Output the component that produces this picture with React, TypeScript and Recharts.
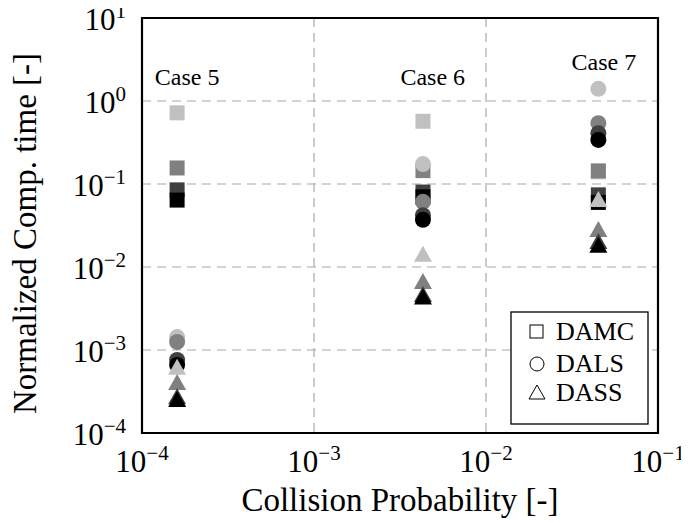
import React from 'react';
import { ScatterChart, Scatter, XAxis, YAxis, CartesianGrid, ReferenceArea } from 'recharts';

// Collision probability of each case
const caseX = [1.6e-4, 4.3e-3, 4.5e-2];
const caseNames = ['Case 5', 'Case 6', 'Case 7'];
const caseLabelX = [1.83e-4, 4.9e-3, 4.85e-2];
const caseLabelY = [1.56, 1.56, 2.36];

// grey shades (light -> black)
const shades = ['#c0c0c0', '#808080', '#404040', '#000000'];

// DAMC (squares)
const damcLight = [0.72, 0.57, 0.14];
const damcMid = [0.156, 0.145, 0.144];
const damcDark = [0.085, 0.08, 0.074];
const damcBlack = [0.064, 0.07, 0.06];

// DALS (circles)
const dalsLight = [1.43e-3, 0.174, 1.4];
const dalsMid = [1.25e-3, 0.061, 0.54];
const dalsDark = [7.6e-4, 0.042, 0.41];
const dalsBlack = [6.6e-4, 0.037, 0.34];

// DASS (triangles)
const dassLight = [6.1e-4, 0.014, 0.064];
const dassMid = [4.0e-4, 6.6e-3, 0.028];
const dassDark = [2.7e-4, 4.6e-3, 0.02];
const dassBlack = [2.5e-4, 4.3e-3, 0.018];

const xTicks = [1e-4, 1e-3, 1e-2, 1e-1];
const yTicks = [1e-4, 1e-3, 1e-2, 1e-1, 1, 10];

const legendNames = ['DAMC', 'DALS', 'DASS'];

const FONT = 'Liberation Serif';
const txt = (size: number) => ({ fontFamily: FONT, fontSize: size, fill: '#000' });

const toPts = (vals: number[]) => vals.map((v, i) => ({ x: caseX[i], y: v }));
const labelPts = caseNames.map((n, i) => ({ x: caseLabelX[i], y: caseLabelY[i], name: n }));

const expText = (v: number) => {
  const e = Math.round(Math.log10(v));
  return e < 0 ? '\u2212' + Math.abs(e) : String(e);
};

const XTick = (props: any) => {
  const { x, y, payload } = props;
  return (
    <text x={x} y={y + 39} textAnchor="middle" style={txt(31)}>
      <tspan>10</tspan>
      <tspan dy={-12} style={{ fontSize: 21 }}>{expText(payload.value)}</tspan>
    </text>
  );
};

const YTick = (props: any) => {
  const { x, y, payload } = props;
  return (
    <text x={x - 16} y={y + 12} textAnchor="end" style={txt(31)}>
      <tspan>10</tspan>
      <tspan dy={-12} style={{ fontSize: 21 }}>{expText(payload.value)}</tspan>
    </text>
  );
};

const XTitle = (props: any) => {
  const vb = props.viewBox || {};
  return (
    <text x={vb.x + vb.width / 2} y={vb.y + 78} textAnchor="middle" style={txt(33)}>
      Collision Probability [-]
    </text>
  );
};

const YTitle = (props: any) => {
  const vb = props.viewBox || {};
  const cx = 36;
  const cy = vb.y + vb.height / 2 + 8;
  return (
    <text x={cx} y={cy} transform={`rotate(-90, ${cx}, ${cy})`} textAnchor="middle" style={txt(33)}>
      Normalized Comp. time [-]
    </text>
  );
};

const makeSquare = (fill: string) => (p: any) => (
  <rect x={p.cx - 7.5} y={p.cy - 7.5} width={15} height={15} fill={fill} />
);
const makeCircle = (fill: string) => (p: any) => (
  <circle cx={p.cx} cy={p.cy} r={8} fill={fill} />
);
const makeTriangle = (fill: string) => (p: any) => (
  <polygon points={`${p.cx - 9},${p.cy + 7} ${p.cx + 9},${p.cy + 7} ${p.cx},${p.cy - 9}`} fill={fill} />
);

const CaseLabel = (p: any) => (
  <text x={p.cx} y={p.cy} textAnchor="middle" style={txt(24)}>
    {p.payload.name}
  </text>
);

const damcSeries = [damcLight, damcMid, damcDark, damcBlack];
const dalsSeries = [dalsLight, dalsMid, dalsDark, dalsBlack];
const dassSeries = [dassLight, dassMid, dassDark, dassBlack];

const LegendBox = () => (
  <svg width={139} height={114} style={{ position: 'absolute', left: 510, top: 311 }}>
    <rect x={1} y={1} width={137} height={112} fill="#fff" stroke="#000" strokeWidth={1.3} />
    <rect x={20} y={14} width={13} height={13} fill="none" stroke="#000" strokeWidth={1} />
    <circle cx={27} cy={53} r={7} fill="none" stroke="#000" strokeWidth={1} />
    <polygon points="19,88 35,88 27,74" fill="none" stroke="#000" strokeWidth={1} />
    {legendNames.map((n, i) => (
      <text key={n} x={46} y={[29, 61, 90][i]} style={txt(26)}>
        {n}
      </text>
    ))}
  </svg>
);

export default function App() {
  return (
    <div style={{ position: 'relative', width: 689, height: 523, margin: '-8px 0 0 -8px' }}>
      <ScatterChart width={689} height={523} margin={{ top: 18, right: 31, bottom: 0, left: 0 }}>
        <CartesianGrid stroke="#aaaaaa" strokeDasharray="9 6" strokeWidth={1.2} />
        <XAxis
          dataKey="x"
          type="number"
          scale="log"
          domain={[1e-4, 1e-1]}
          ticks={xTicks}
          allowDataOverflow
          axisLine={false}
          tickLine={false}
          tickSize={0}
          tickMargin={0}
          height={90}
          tick={<XTick />}
          label={<XTitle />}
        />
        <YAxis
          dataKey="y"
          type="number"
          scale="log"
          domain={[1e-4, 10]}
          ticks={yTicks}
          allowDataOverflow
          axisLine={false}
          tickLine={false}
          tickSize={0}
          tickMargin={0}
          width={142}
          tick={<YTick />}
          label={<YTitle />}
        />
        {damcSeries.map((s, i) => (
          <Scatter key={'damc' + i} data={toPts(s)} shape={makeSquare(shades[i])} isAnimationActive={false} />
        ))}
        {dalsSeries.map((s, i) => (
          <Scatter key={'dals' + i} data={toPts(s)} shape={makeCircle(shades[i])} isAnimationActive={false} />
        ))}
        {dassSeries.map((s, i) => (
          <Scatter key={'dass' + i} data={toPts(s)} shape={makeTriangle(shades[i])} isAnimationActive={false} />
        ))}
        <Scatter data={labelPts} shape={CaseLabel} isAnimationActive={false} />
        <ReferenceArea x1={1e-4} x2={1e-1} y1={1e-4} y2={10} fill="none" stroke="#000" strokeWidth={2.2} ifOverflow="visible" />
      </ScatterChart>
      <LegendBox />
    </div>
  );
}
